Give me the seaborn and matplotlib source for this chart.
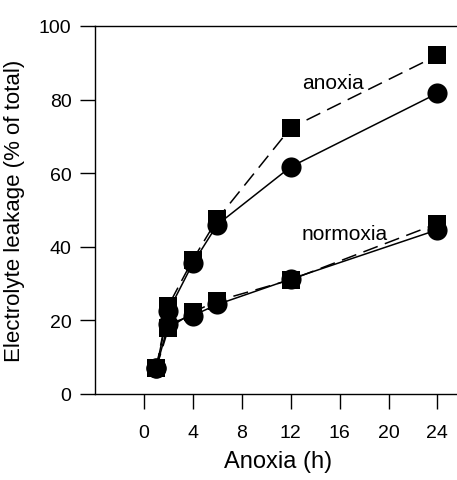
"""
Electrolyte leakage vs. anoxia duration, anoxia vs. normoxia.
"""

import matplotlib
matplotlib.use("Agg")
import matplotlib.pyplot as plt
import pandas as pd
import seaborn as sns

# ── Data ──────────────────────────────────────────────────────────────────────

hours = [1, 2, 4, 6, 12, 24]

anoxia_sq = [7.0, 24.0, 36.5, 47.5, 72.3, 92.0]
anoxia_ci = [7.0, 22.5, 35.5, 46.0, 61.7, 81.7]
normoxia_sq = [7.0, 17.8, 22.2, 25.3, 31.0, 46.3]
normoxia_ci = [7.0, 19.0, 21.3, 24.3, 31.2, 44.6]

x_ticks = [0, 4, 8, 12, 16, 20, 24]
y_ticks = [0, 20, 40, 60, 80, 100]

series = [
    ("anoxia", "square", anoxia_sq),
    ("anoxia", "circle", anoxia_ci),
    ("normoxia", "square", normoxia_sq),
    ("normoxia", "circle", normoxia_ci),
]

df = pd.DataFrame(
    [
        {"condition": cond, "marker": mk, "hours": h, "leakage": v}
        for cond, mk, vals in series
        for h, v in zip(hours, vals)
    ]
)

# ── Plot ──────────────────────────────────────────────────────────────────────

sns.set_style("ticks")
plt.rcParams["font.family"] = ["Liberation Sans", "DejaVu Sans"]
plt.rcParams["text.color"] = "black"
plt.rcParams["axes.labelcolor"] = "black"
plt.rcParams["xtick.color"] = "black"
plt.rcParams["ytick.color"] = "black"

fig = plt.figure(figsize=(4.57, 4.81), dpi=100)
ax = fig.add_axes([0.208, 0.179, 0.80, 0.765])

styles = {
    "square": dict(marker="s", markersize=12.5, dashes=(10, 5)),
    "circle": dict(marker="o", markersize=14.5, dashes=None),
}

for (cond, mk), sub in df.groupby(["condition", "marker"], sort=False):
    st = styles[mk]
    sns.lineplot(
        data=sub, x="hours", y="leakage", ax=ax,
        color="black", linewidth=1.1, marker=st["marker"],
        markersize=st["markersize"], markeredgewidth=0, clip_on=False,
    )
    if st["dashes"]:
        ax.lines[-1].set_dashes(st["dashes"])

ax.text(12.9, 84.5, "anoxia", fontsize=15, va="center", ha="left")
ax.text(12.9, 43.5, "normoxia", fontsize=15, va="center", ha="left")

ax.set_xlim(-4, 25.9)
ax.set_ylim(0, 100)
ax.set_xticks(x_ticks)
ax.set_yticks(y_ticks)

ax.spines["right"].set_visible(False)
for side in ("left", "top", "bottom"):
    ax.spines[side].set_linewidth(1.0)
    ax.spines[side].set_color("black")

ax.tick_params(axis="both", direction="out", length=11, width=1.0,
               color="black", labelcolor="black", labelsize=14)
ax.tick_params(axis="x", pad=11)
ax.tick_params(axis="y", pad=6)

ax.set_xlabel("Anoxia (h)", fontsize=17, labelpad=6)
ax.set_ylabel("Electrolyte leakage (% of total)", fontsize=16, labelpad=10)

fig.savefig("out.png", dpi=100)
